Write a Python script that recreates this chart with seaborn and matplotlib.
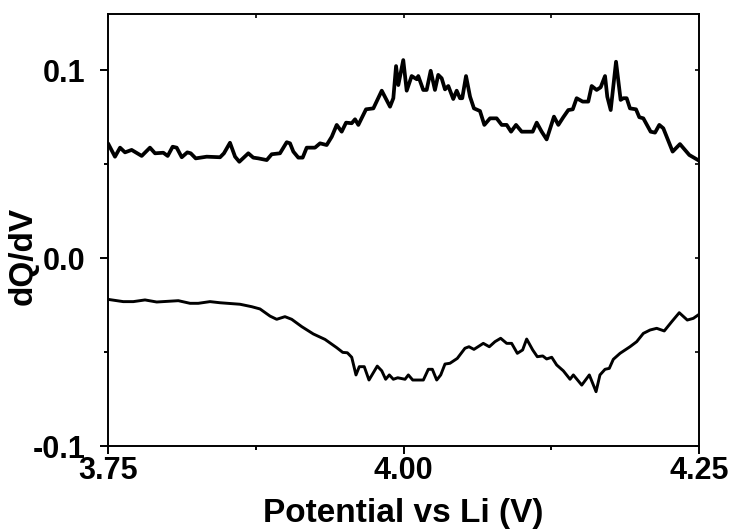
import numpy as np
import pandas as pd
import matplotlib
matplotlib.use("Agg")
import matplotlib.pyplot as plt
import seaborn as sns
from matplotlib.ticker import MultipleLocator, FixedLocator

# Charge branch (upper curve): potential (V) and dQ/dV
charge_v = [3.7500, 3.7559, 3.7602, 3.7644, 3.7700, 3.7785, 3.7855, 3.7898, 3.7968, 3.8005,
            3.8047, 3.8081, 3.8124, 3.8171, 3.8200, 3.8242, 3.8335, 3.8448, 3.8481, 3.8532,
            3.8575, 3.8611, 3.8687, 3.8729, 3.8772, 3.8843, 3.8885, 3.8955, 3.9012, 3.9040,
            3.9068, 3.9110, 3.9147, 3.9181, 3.9251, 3.9294, 3.9350, 3.9393, 3.9435, 3.9477,
            3.9514, 3.9562, 3.9590, 3.9618, 3.9683, 3.9745, 3.9816, 3.9886, 3.9914, 3.9937,
            3.9956, 3.9998, 4.0027, 4.0069, 4.0112, 4.0125, 4.0167, 4.0196, 4.0230, 4.0266,
            4.0294, 4.0323, 4.0351, 4.0379, 4.0421, 4.0450, 4.0478, 4.0497, 4.0529, 4.0563,
            4.0596, 4.0647, 4.0684, 4.0732, 4.0788, 4.0831, 4.0873, 4.0910, 4.0952, 4.1000,
            4.1093, 4.1127, 4.1169, 4.1211, 4.1273, 4.1310, 4.1352, 4.1394, 4.1432, 4.1465,
            4.1516, 4.1563, 4.1592, 4.1634, 4.1668, 4.1705, 4.1724, 4.1753, 4.1798, 4.1837,
            4.1860, 4.1888, 4.1916, 4.1967, 4.1995, 4.2029, 4.2091, 4.2128, 4.2164, 4.2198,
            4.2277, 4.2339, 4.2418, 4.2500]
charge_dqdv = [0.0610, 0.0539, 0.0587, 0.0562, 0.0575, 0.0543, 0.0587, 0.0557, 0.0560, 0.0543,
               0.0592, 0.0587, 0.0536, 0.0562, 0.0557, 0.0530, 0.0539, 0.0536, 0.0557, 0.0613,
               0.0539, 0.0512, 0.0557, 0.0534, 0.0530, 0.0521, 0.0552, 0.0557, 0.0616, 0.0610,
               0.0566, 0.0534, 0.0534, 0.0587, 0.0587, 0.0610, 0.0601, 0.0645, 0.0708, 0.0672,
               0.0720, 0.0717, 0.0738, 0.0708, 0.0791, 0.0796, 0.0890, 0.0805, 0.0850, 0.1021,
               0.0920, 0.1053, 0.0890, 0.0968, 0.0951, 0.0968, 0.0894, 0.0894, 0.0996, 0.0894,
               0.0974, 0.0956, 0.0897, 0.0915, 0.0846, 0.0890, 0.0850, 0.0850, 0.0968, 0.0858,
               0.0796, 0.0782, 0.0708, 0.0743, 0.0743, 0.0708, 0.0708, 0.0672, 0.0708, 0.0672,
               0.0672, 0.0720, 0.0672, 0.0631, 0.0752, 0.0708, 0.0749, 0.0787, 0.0791, 0.0850,
               0.0832, 0.0832, 0.0915, 0.0894, 0.0908, 0.0968, 0.0858, 0.0787, 0.1044, 0.0841,
               0.0850, 0.0850, 0.0796, 0.0791, 0.0749, 0.0743, 0.0672, 0.0667, 0.0708, 0.0690,
               0.0566, 0.0606, 0.0548, 0.0518]

# Discharge branch (lower curve)
discharge_v = [3.7500, 3.7629, 3.7714, 3.7813, 3.7912, 3.8095, 3.8194, 3.8264, 3.8363, 3.8448,
               3.8617, 3.8716, 3.8786, 3.8871, 3.8927, 3.8997, 3.9054, 3.9139, 3.9237, 3.9336,
               3.9435, 3.9486, 3.9525, 3.9562, 3.9598, 3.9626, 3.9668, 3.9708, 3.9778, 3.9816,
               3.9849, 3.9880, 3.9914, 3.9951, 4.0013, 4.0041, 4.0078, 4.0168, 4.0210, 4.0244,
               4.0281, 4.0315, 4.0351, 4.0393, 4.0455, 4.0520, 4.0554, 4.0596, 4.0675, 4.0726,
               4.0774, 4.0822, 4.0873, 4.0915, 4.0963, 4.1008, 4.1042, 4.1093, 4.1132, 4.1178,
               4.1211, 4.1254, 4.1296, 4.1352, 4.1409, 4.1437, 4.1508, 4.1572, 4.1629, 4.1662,
               4.1705, 4.1741, 4.1775, 4.1832, 4.1916, 4.1973, 4.2029, 4.2086, 4.2142, 4.2206,
               4.2269, 4.2333, 4.2401, 4.2452, 4.2500]
discharge_dqdv = [-0.0220, -0.0232, -0.0232, -0.0223, -0.0234, -0.0227, -0.0241, -0.0241, -0.0232, -0.0238,
                  -0.0246, -0.0259, -0.0271, -0.0309, -0.0326, -0.0312, -0.0326, -0.0365, -0.0404, -0.0433,
                  -0.0477, -0.0502, -0.0504, -0.0528, -0.0622, -0.0578, -0.0578, -0.0649, -0.0575, -0.0600,
                  -0.0645, -0.0622, -0.0645, -0.0637, -0.0645, -0.0622, -0.0649, -0.0649, -0.0592, -0.0592,
                  -0.0649, -0.0622, -0.0564, -0.0560, -0.0534, -0.0480, -0.0472, -0.0486, -0.0454, -0.0472,
                  -0.0445, -0.0427, -0.0454, -0.0454, -0.0507, -0.0489, -0.0431, -0.0489, -0.0525, -0.0521,
                  -0.0537, -0.0528, -0.0569, -0.0600, -0.0645, -0.0622, -0.0676, -0.0622, -0.0711, -0.0622,
                  -0.0592, -0.0587, -0.0539, -0.0507, -0.0472, -0.0445, -0.0401, -0.0383, -0.0374, -0.0388,
                  -0.0339, -0.0291, -0.0330, -0.0321, -0.0300]

x_ticks = [3.75, 4.00, 4.25]
x_tick_labels = ["3.75", "4.00", "4.25"]
y_ticks = [-0.1, 0.0, 0.1]
y_tick_labels = ["-0.1", "0.0", "0.1"]

sns.set_style("ticks")
plt.rcParams["font.family"] = ["Liberation Sans", "DejaVu Sans"]
plt.rcParams["font.weight"] = "bold"
plt.rcParams["axes.unicode_minus"] = False
plt.rcParams["text.color"] = "black"
plt.rcParams["axes.labelcolor"] = "black"

charge = pd.DataFrame({"V": charge_v, "dQdV": charge_dqdv})
discharge = pd.DataFrame({"V": discharge_v, "dQdV": discharge_dqdv})

fig = plt.figure(figsize=(7.33, 5.31), dpi=100)
ax = fig.add_axes([108 / 733, 1 - 446 / 531, (699 - 108) / 733, (446 - 14) / 531])

sns.lineplot(data=charge, x="V", y="dQdV", ax=ax, color="black", linewidth=2.7,
             sort=False, estimator=None)
sns.lineplot(data=discharge, x="V", y="dQdV", ax=ax, color="black", linewidth=2.1,
             sort=False, estimator=None)

ax.set_xlim(3.75, 4.25)
ax.set_ylim(-0.1, 0.1298)

ax.xaxis.set_major_locator(FixedLocator(x_ticks))
ax.set_xticklabels(x_tick_labels)
ax.xaxis.set_minor_locator(MultipleLocator(0.125))
ax.yaxis.set_major_locator(FixedLocator(y_ticks))
ax.set_yticklabels(y_tick_labels)
ax.yaxis.set_minor_locator(MultipleLocator(0.05))

for side in ["left", "right", "top", "bottom"]:
    ax.spines[side].set_linewidth(1.4)
    ax.spines[side].set_color("black")

ax.tick_params(axis="both", which="major", direction="out", length=6, width=1.4,
               labelsize=22, pad=1, colors="black")
ax.tick_params(axis="both", which="minor", direction="out", length=3, width=1.4,
               colors="black")
ax.tick_params(axis="y", which="major", pad=10)

# Inward ticks on the opposite spines
ax_top = ax.secondary_xaxis("top")
ax_top.set_xticks(x_ticks)
ax_top.xaxis.set_minor_locator(MultipleLocator(0.125))
ax_top.tick_params(which="both", direction="in", length=3, width=1.2, labeltop=False,
                   colors="black")
ax_top.spines["top"].set_visible(False)
ax_right = ax.secondary_yaxis("right")
ax_right.set_yticks(y_ticks)
ax_right.yaxis.set_minor_locator(MultipleLocator(0.05))
ax_right.tick_params(which="both", direction="in", length=3, width=1.2, labelright=False,
                     colors="black")
ax_right.spines["right"].set_visible(False)

for lbl in ax.get_xticklabels() + ax.get_yticklabels():
    lbl.set_fontweight("bold")

ax.set_xlabel("Potential vs Li (V)", fontsize=24, fontweight="bold", labelpad=9,
              color="black")
ax.set_ylabel("dQ/dV", fontsize=24, fontweight="bold", color="black")
ax.yaxis.set_label_coords(-0.117, 0.44)

fig.savefig("out.png", dpi=100, facecolor="white")
